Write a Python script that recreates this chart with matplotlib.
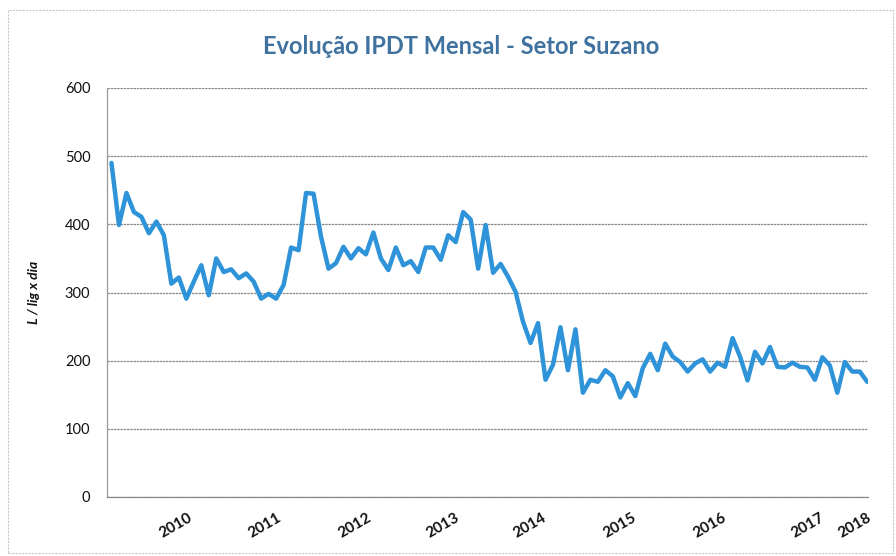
import matplotlib
matplotlib.use("Agg")
import matplotlib.pyplot as plt
from matplotlib.patches import Rectangle

# Monthly IPDT values (L / lig x dia), in chronological order
ipdt = [
    490, 399, 446, 418, 411, 387, 404, 384, 313, 322,
    291, 316, 340, 296, 350, 330, 334, 321, 328, 316,
    291, 298, 291, 311, 366, 362, 446, 445, 382, 335,
    343, 367, 350, 365, 356, 388, 350, 333, 366, 340,
    346, 330, 366, 366, 348, 384, 374, 418, 407, 335,
    399, 329, 342, 323, 301, 257, 226, 255, 172, 194,
    249, 186, 246, 153, 172, 169, 186, 177, 146, 167,
    148, 189, 210, 186, 225, 206, 198, 184, 196, 202,
    184, 197, 191, 233, 206, 171, 213, 196, 220, 191,
    190, 197, 191, 190, 172, 205, 193, 153, 198, 184,
    184, 169,
]

# Year labels and the month index each one sits under
year_labels = ["2010", "2011", "2012", "2013", "2014", "2015", "2016", "2017", "2018"]
year_pos = [8.6, 20.5, 32.5, 44.3, 55.9, 67.9, 80.0, 93.1, 99.3]

y_ticks = [0, 100, 200, 300, 400, 500, 600]

plt.rcParams["font.family"] = ["Lato", "DejaVu Sans"]

fig = plt.figure(figsize=(8.96, 5.56), dpi=100)
ax = fig.add_axes([107 / 896, 1 - 497 / 556, (868 - 107) / 896, (497 - 88) / 556])

ax.plot(range(len(ipdt)), ipdt, color="#2E93D8", linewidth=3.2,
        solid_joinstyle="round", solid_capstyle="round", zorder=3)

ax.set_xlim(-0.6, 101.1)
ax.set_ylim(0, 600)
ax.set_yticks(y_ticks)
ax.set_yticklabels([str(v) for v in y_ticks], fontsize=10.5, color="#111111")
ax.tick_params(axis="y", length=0, pad=12)

ax.set_xticks(year_pos)
ax.set_xticklabels(year_labels, rotation=30, ha="center", va="top",
                   fontsize=11, fontweight="bold", color="#111111")
ax.tick_params(axis="x", length=0, pad=10)

ax.grid(axis="y", color="#8a8a8a", linewidth=0.9, linestyle=(0, (2, 0.6)))
ax.set_axisbelow(True)
for side in ("top", "right"):
    ax.spines[side].set_visible(False)
ax.spines["left"].set_color("#9a9a9a")
ax.spines["bottom"].set_color("#8a8a8a")
ax.spines["left"].set_linewidth(0.9)
ax.spines["bottom"].set_linewidth(0.9)

ax.set_ylabel("L / lig x dia", fontsize=10, fontweight="bold", fontstyle="italic",
              color="#111111", labelpad=18)

fig.text(0.5146, 1 - 47 / 556, "Evolução IPDT Mensal - Setor Suzano",
         ha="center", va="center", fontsize=17, fontweight="bold", color="#40729F")

# Chart area border
fig.patches.append(Rectangle((8 / 896, 1 - 553 / 556), (893 - 8) / 896, (553 - 10) / 556,
                             transform=fig.transFigure, fill=False,
                             edgecolor="#c8c8c8", linewidth=0.8, linestyle=(0, (2, 1))))

fig.savefig("out.png", dpi=100)
